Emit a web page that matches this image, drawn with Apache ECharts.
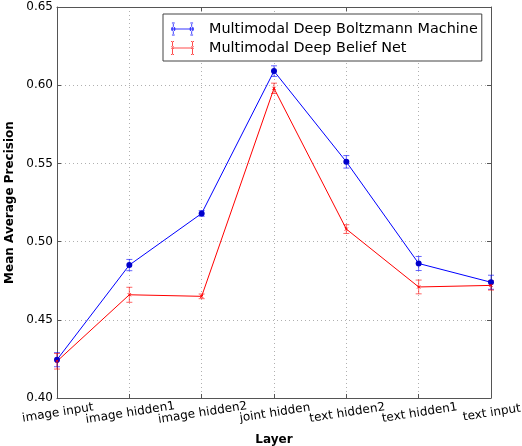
<!DOCTYPE html>
<html>
<head>
<meta charset="utf-8">
<script src="https://cdn.jsdelivr.net/npm/echarts@6/dist/echarts.min.js"></script>
<style>html,body{margin:0;padding:0;background:#fff}#c{width:522px;height:446px}</style>
</head>
<body>
<div id="c"></div>
<script>
const categories = ['image input', 'image hidden1', 'image hidden2', 'joint hidden', 'text hidden2', 'text hidden1', 'text input'];
const dbmValues = [0.4245, 0.485, 0.518, 0.609, 0.551, 0.486, 0.474];
const dbmErrors = [0.0045, 0.0036, 0.0018, 0.0034, 0.004, 0.0045, 0.0045];
const dbnValues = [0.4235, 0.466, 0.465, 0.598, 0.508, 0.471, 0.472];
const dbnErrors = [0.005, 0.0048, 0.0015, 0.0033, 0.0028, 0.0044, 0.003];
const yTicks = [0.40, 0.45, 0.50, 0.55, 0.60, 0.65];
const seriesNames = ['Multimodal Deep Boltzmann Machine', 'Multimodal Deep Belief Net'];

const FONT = 'DejaVu Sans';
const BLUE = '#0000ff';
const RED = '#ff0000';
const FRAME = '#555555';

function errData(vals, errs) {
  return vals.map((v, i) => [i, v - errs[i], v + errs[i]]);
}
function errSeries(name, vals, errs, color) {
  return {
    type: 'custom',
    name: name + ' err',
    xAxisIndex: 0, yAxisIndex: 0,
    data: errData(vals, errs),
    encode: { x: 0, y: [1, 2] },
    silent: true,
    z: 3,
    renderItem: function (params, api) {
      const x = api.value(0);
      const lo = api.coord([x, api.value(1)]);
      const hi = api.coord([x, api.value(2)]);
      const w = 3;
      const st = { stroke: color, lineWidth: 1, opacity: 0.6 };
      return {
        type: 'group',
        children: [
          { type: 'line', shape: { x1: lo[0], y1: lo[1], x2: hi[0], y2: hi[1] }, style: st },
          { type: 'line', shape: { x1: lo[0] - w, y1: lo[1], x2: lo[0] + w, y2: lo[1] }, style: st },
          { type: 'line', shape: { x1: hi[0] - w, y1: hi[1], x2: hi[0] + w, y2: hi[1] }, style: st }
        ]
      };
    }
  };
}

// legend icons (23 x 14 units)
const blueIcon = 'path://M1,6.5 L22,6.5 L22,7.5 L1,7.5 Z ' +
  'M1,0.5 L1,13.5 L2,13.5 L2,0.5 Z M21,0.5 L21,13.5 L22,13.5 L22,0.5 Z ' +
  'M0,0 L3,0 L3,1 L0,1 Z M0,13 L3,13 L3,14 L0,14 Z ' +
  'M20,0 L23,0 L23,1 L20,1 Z M20,13 L23,13 L23,14 L20,14 Z ' +
  'M-1,7 A2.5,2.5 0 1 1 4,7 A2.5,2.5 0 1 1 -1,7 Z ' +
  'M19,7 A2.5,2.5 0 1 1 24,7 A2.5,2.5 0 1 1 19,7 Z';
const redIcon = 'path://M1,6.5 L22,6.5 L22,7.5 L1,7.5 Z ' +
  'M1,0.5 L1,13.5 L2,13.5 L2,0.5 Z M21,0.5 L21,13.5 L22,13.5 L22,0.5 Z ' +
  'M0,0 L3,0 L3,1 L0,1 Z M0,13 L3,13 L3,14 L0,14 Z ' +
  'M20,0 L23,0 L23,1 L20,1 Z M20,13 L23,13 L23,14 L20,14 Z ' +
  'M0,5 L1,5 L3,8 L2,8 Z M2,5 L3,5 L1,8 L0,8 Z ' +
  'M20,5 L21,5 L23,8 L22,8 Z M22,5 L23,5 L21,8 L20,8 Z';

const legendText = { fontFamily: FONT, fontSize: 14.4, color: '#000', padding: [0, 0, 0, 10] };

const chart = echarts.init(document.getElementById('c'), null, { renderer: 'canvas' });
chart.setOption({
  animation: false,
  backgroundColor: '#ffffff',
  textStyle: { fontFamily: FONT },
  grid: { left: 57, right: 31, top: 7, bottom: 48, containLabel: false, outerBoundsMode: 'none' },
  legend: {
    orient: 'vertical',
    left: 163,
    top: 14,
    data: [
      { name: seriesNames[0], icon: blueIcon, itemStyle: { color: BLUE, borderWidth: 0, opacity: 0.8 }, textStyle: legendText },
      { name: seriesNames[1], icon: redIcon, itemStyle: { color: RED, borderWidth: 0, opacity: 0.7 }, textStyle: legendText }
    ],
    itemWidth: 23,
    itemHeight: 14,
    itemGap: 5,
    padding: [8, 4, 6, 8],
    borderColor: '#444444',
    borderWidth: 1,
    borderRadius: 0,
    backgroundColor: '#ffffff',
    textStyle: legendText
  },
  xAxis: [{
    type: 'category',
    data: categories,
    boundaryGap: false,
    name: 'Layer',
    nameLocation: 'middle',
    nameGap: 36,
    nameTextStyle: { fontFamily: FONT, fontSize: 12, fontWeight: 'bold', color: '#000' },
    axisLine: { show: true, onZero: false, lineStyle: { color: FRAME, width: 1 } },
    axisTick: { show: true, inside: true, length: 4, alignWithLabel: true, lineStyle: { color: FRAME } },
    axisLabel: { rotate: 9, align: 'center', verticalAlign: 'top', margin: 9, fontFamily: FONT, fontSize: 12, color: '#000', interval: 0, hideOverlap: false },
    splitLine: { show: true, lineStyle: { color: '#b0b0b0', type: [1, 3], width: 1 } }
  }, {
    type: 'category',
    data: categories,
    boundaryGap: false,
    position: 'top',
    axisLine: { show: true, onZero: false, lineStyle: { color: FRAME, width: 1 } },
    axisTick: { show: true, inside: true, length: 4, lineStyle: { color: FRAME } },
    axisLabel: { show: false },
    splitLine: { show: false }
  }],
  yAxis: [{
    type: 'value',
    min: 0.40, max: 0.65, interval: 0.05,
    name: 'Mean Average Precision',
    nameLocation: 'middle',
    nameGap: 33,
    nameTextStyle: { fontFamily: FONT, fontSize: 12, fontWeight: 'bold', color: '#000' },
    axisLine: { show: true, onZero: false, lineStyle: { color: FRAME, width: 1 } },
    axisTick: { show: true, inside: true, length: 4, lineStyle: { color: FRAME } },
    axisLabel: {
      fontFamily: FONT, fontSize: 12, color: '#000', margin: 4,
      formatter: function (v) {
        const t = yTicks.find(k => Math.abs(k - v) < 1e-9);
        return t === undefined ? '' : t.toFixed(2);
      }
    },
    splitLine: { show: true, lineStyle: { color: '#b0b0b0', type: [1, 3], width: 1 } }
  }, {
    type: 'value',
    min: 0.40, max: 0.65, interval: 0.05,
    position: 'right',
    axisLine: { show: true, onZero: false, lineStyle: { color: FRAME, width: 1 } },
    axisTick: { show: true, inside: true, length: 4, lineStyle: { color: FRAME } },
    axisLabel: { show: false },
    splitLine: { show: false }
  }],
  series: [
    {
      type: 'line',
      name: seriesNames[0],
      data: dbmValues,
      xAxisIndex: 0, yAxisIndex: 0,
      symbol: 'circle',
      symbolSize: 6,
      showAllSymbol: true,
      lineStyle: { color: BLUE, width: 1 },
      itemStyle: { color: '#0000cc', borderWidth: 0 },
      z: 4
    },
    {
      type: 'line',
      name: seriesNames[1],
      data: dbnValues,
      xAxisIndex: 0, yAxisIndex: 0,
      symbol: 'path://M0,0 L1,1 M1,0 L0,1',
      symbolSize: 3,
      showAllSymbol: true,
      lineStyle: { color: RED, width: 1 },
      itemStyle: { color: RED, borderColor: RED, borderWidth: 1 },
      z: 4
    },
    errSeries(seriesNames[0], dbmValues, dbmErrors, BLUE),
    errSeries(seriesNames[1], dbnValues, dbnErrors, RED)
  ]
});
</script>
</body>
</html>
